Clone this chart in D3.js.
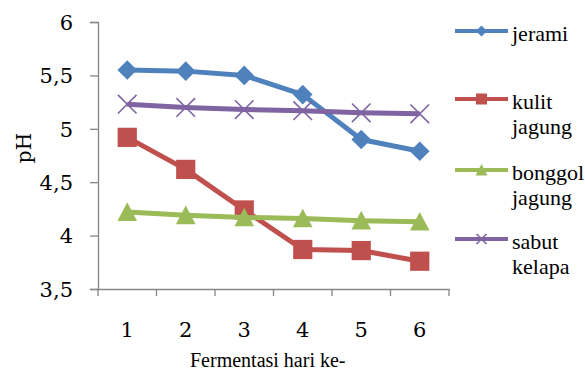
<!DOCTYPE html>
<html>
<head>
<meta charset="utf-8">
<script src="https://cdn.jsdelivr.net/npm/d3@7"></script>
<style>
  html, body { margin: 0; padding: 0; background: #fff; }
  svg text { font-family: "DejaVu Serif", "Liberation Serif", serif; fill: #000; }
  svg text.narrow { font-family: "Liberation Serif", "DejaVu Serif", serif; }
</style>
</head>
<body>
<svg id="chart" width="585" height="372"></svg>
<script>
// Fermentation day on the x axis, pH on the y axis
const days = ["1", "2", "3", "4", "5", "6"];
const jerami = [5.55, 5.54, 5.50, 5.32, 4.90, 4.79];
const kulitJagung = [4.92, 4.62, 4.24, 3.87, 3.86, 3.76];
const bonggolJagung = [4.22, 4.19, 4.17, 4.16, 4.14, 4.13];
const sabutKelapa = [5.23, 5.20, 5.18, 5.17, 5.15, 5.14];
const yTicks = [3.5, 4, 4.5, 5, 5.5, 6];

const seriesNames = [["jerami"], ["kulit", "jagung"], ["bonggol", "jagung"], ["sabut", "kelapa"]];
const seriesValues = [jerami, kulitJagung, bonggolJagung, sabutKelapa];
const colors = ["#4F81BD", "#C0504D", "#9BBB59", "#8064A2"];
const markers = ["diamond", "square", "triangle", "cross"];

const svg = d3.select("#chart");
const plot = { left: 98, right: 449, top: 22, bottom: 289 };

const x = d3.scaleBand().domain(days).range([plot.left, plot.right]);
const y = d3.scaleLinear().domain([3.5, 6]).range([plot.bottom, plot.top]);
const axisColor = "#868686";

// y axis
const yAxis = svg.append("g")
  .attr("transform", `translate(${plot.left},0)`)
  .call(d3.axisLeft(y).tickValues(yTicks).tickSize(8).tickPadding(17)
    .tickFormat(d => String(d).replace(".", ",")));
yAxis.selectAll("text").style("font-size", "21px").attr("dy", "0.35em");

// x axis (ticks between categories)
const xAxis = svg.append("g")
  .attr("transform", `translate(0,${plot.bottom})`)
  .call(d3.axisBottom(x).tickSize(0).tickPadding(33));
xAxis.selectAll("text").style("font-size", "21px");
xAxis.selectAll(".between")
  .data(d3.range(days.length + 1))
  .join("line")
  .attr("class", "between")
  .attr("x1", i => plot.left + i * x.step())
  .attr("x2", i => plot.left + i * x.step())
  .attr("y1", 0).attr("y2", 7)
  .attr("stroke", axisColor);

[yAxis, xAxis].forEach(g => {
  g.select(".domain").attr("stroke", axisColor).attr("stroke-width", 1.3);
  g.selectAll(".tick line").attr("stroke", axisColor).attr("stroke-width", 1.3);
});
xAxis.selectAll(".between").attr("stroke-width", 1.3);

// axis titles
svg.append("text").attr("class", "narrow")
  .attr("x", 190).attr("y", 367)
  .style("font-size", "20px")
  .text("Fermentasi hari ke-");
svg.append("text")
  .attr("transform", "translate(31,148) rotate(-90)")
  .attr("text-anchor", "middle").style("font-size", "20px")
  .text("pH");

// marker shapes, r = half width
function marker(g, type, color, r) {
  if (type === "diamond") {
    g.append("path").attr("d", `M0,${-r}L${r},0L0,${r}L${-r},0Z`).attr("fill", color);
  } else if (type === "square") {
    g.append("rect").attr("x", -r).attr("y", -r)
      .attr("width", 2 * r).attr("height", 2 * r).attr("fill", color);
  } else if (type === "triangle") {
    g.append("path").attr("d", `M0,${-r}L${r},${r * 0.9}L${-r},${r * 0.9}Z`).attr("fill", color);
  } else {
    g.append("path").attr("d", `M${-r},${-r}L${r},${r}M${-r},${r}L${r},${-r}`)
      .attr("stroke", color).attr("stroke-width", 1.6).attr("fill", "none");
  }
}

const line = d3.line().x((d, i) => x(days[i]) + x.bandwidth() / 2).y(d => y(d));

seriesValues.forEach((vals, s) => {
  const g = svg.append("g");
  g.append("path").datum(vals).attr("d", line)
    .attr("fill", "none").attr("stroke", colors[s]).attr("stroke-width", 5)
    .attr("stroke-linejoin", "round");
  vals.forEach((v, i) => {
    const m = g.append("g")
      .attr("transform", `translate(${x(days[i]) + x.bandwidth() / 2},${y(v)})`);
    marker(m, markers[s], colors[s], [9.8, 9.6, 9.8, 9.3][s]);
  });
});

// legend
const legendY = [31, 99, 170, 239];
seriesNames.forEach((name, s) => {
  const g = svg.append("g").attr("transform", `translate(455,${legendY[s]})`);
  g.append("line").attr("x1", 0).attr("x2", 53).attr("stroke", colors[s]).attr("stroke-width", 4);
  const m = g.append("g").attr("transform", "translate(26.5,0)");
  marker(m, markers[s], colors[s], [5.5, 5.5, 6, 5][s]);
  name.forEach((t, k) => {
    g.append("text").attr("class", "narrow")
      .attr("x", 57).attr("y", 9.5 + k * 25.5)
      .style("font-size", "22px").text(t);
  });
});
</script>
</body>
</html>
